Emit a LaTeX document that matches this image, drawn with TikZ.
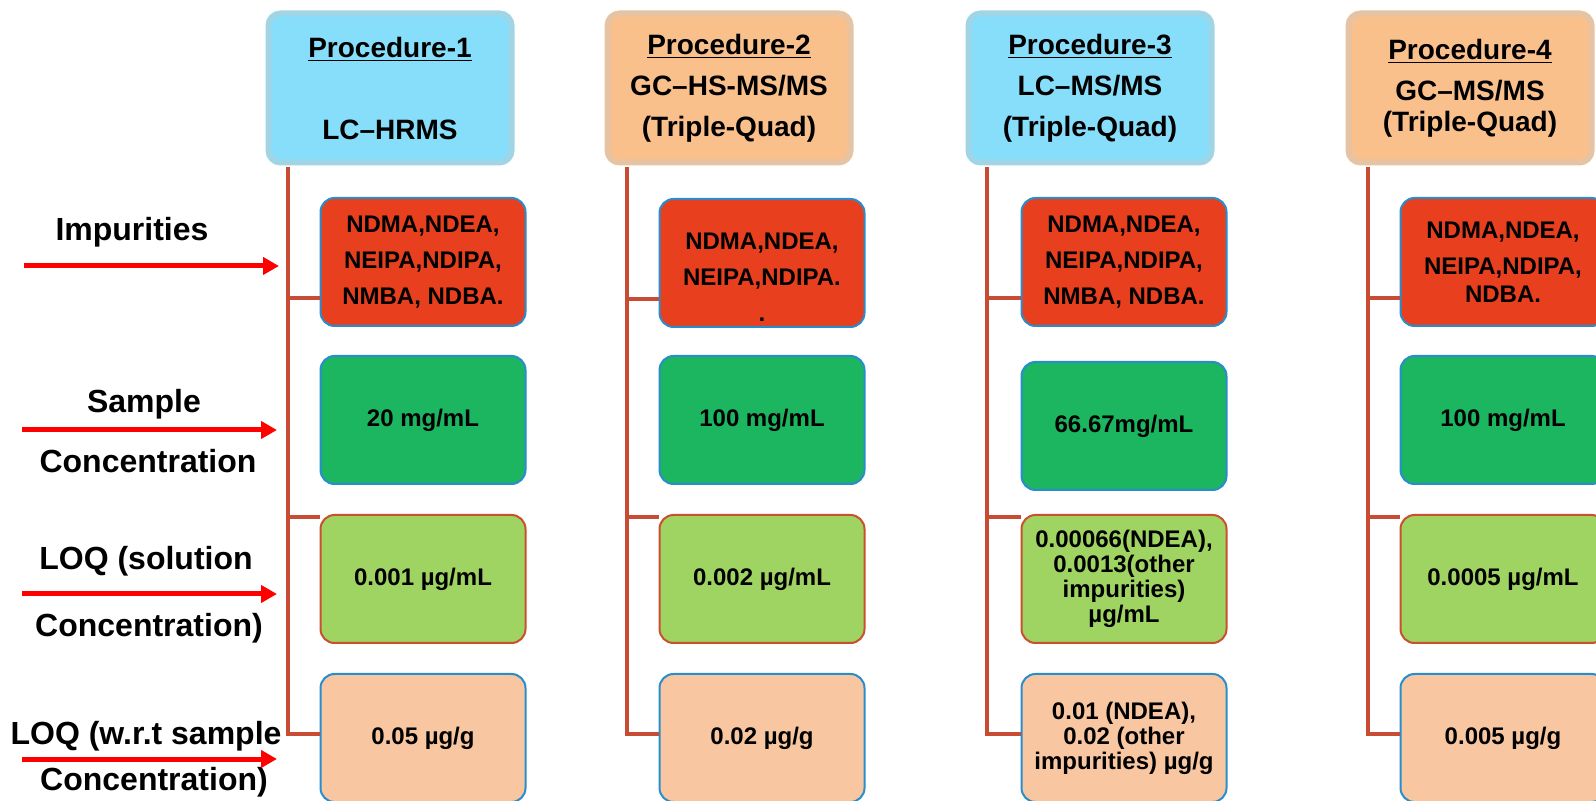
\documentclass[tikz,border=0pt]{standalone}
\usepackage{fontspec}
\setmainfont{Liberation Sans}
\usetikzlibrary{arrows.meta}
\definecolor{hdrblue}{RGB}{135,222,250}
\definecolor{hdrorange}{RGB}{250,192,140}
\definecolor{impred}{RGB}{232,64,30}
\definecolor{concgreen}{RGB}{28,182,96}
\definecolor{loqgreen}{RGB}{160,212,98}
\definecolor{loqpeach}{RGB}{248,198,160}
\definecolor{cellblue}{RGB}{40,140,205}
\definecolor{loqedge}{RGB}{200,80,46}
\definecolor{trunkred}{RGB}{200,76,52}
\tikzset{
  hdr/.style={rounded corners=6pt,minimum width=121.5pt,minimum height=74.5pt,
    line width=3pt,inner sep=2pt,align=center,
    font=\fontsize{14}{20.5}\selectfont\bfseries},
  hdrb/.style={hdr,fill=hdrblue,draw=hdrblue!88!black!70},
  hdro/.style={hdr,fill=hdrorange,draw=hdrorange!88!black!70},
  cell/.style={draw=cellblue,line width=1pt,rounded corners=7pt,minimum width=102.5pt,
    minimum height=64pt,inner sep=2pt,align=center,
    font=\fontsize{12}{12.5}\selectfont\bfseries},
  imp/.style={cell,fill=impred,font=\fontsize{12}{18}\selectfont\bfseries},
  conc/.style={cell,fill=concgreen},
  loqs/.style={cell,fill=loqgreen,draw=loqedge},
  loqw/.style={cell,fill=loqpeach},
  trunk/.style={draw=trunkred,line width=2pt},
  side/.style={-{Triangle[length=8pt,width=8.5pt]},red,line width=2.5pt},
  rowlbl/.style={font=\fontsize{16}{19}\selectfont\bfseries},
}

\begin{document}
\begin{tikzpicture}[x=0.5pt,y=-0.5pt]
  \useasboundingbox (0,0) rectangle (1596,801);
  \clip (0,0) rectangle (1596,801);

  % row labels on the left
  \node[rowlbl] (limp) at (132,232) {Impurities};
  \node[rowlbl] (lsam) at (144,404) {Sample};
  \node[rowlbl] (lcon) at (148,461) {Concentration};
  \node[rowlbl] (lsol) at (146,561) {LOQ (solution};
  \node[rowlbl] (lsolc) at (149,628) {Concentration)};
  \node[rowlbl] (lwrt) at (146,736) {LOQ (w.r.t sample};
  \node[rowlbl] (lwrtc) at (154,782) {Concentration)};
  \coordinate (a1) at (24,266);  \coordinate (b1) at (279,266);
  \coordinate (a2) at (22,430);  \coordinate (b2) at (277,430);
  \coordinate (a3) at (22,594);  \coordinate (b3) at (277,594);
  \coordinate (a4) at (22,759);  \coordinate (b4) at (277,759);
  \draw[side] (a1) -- (b1);
  \draw[side] (a2) -- (b2);
  \draw[side] (a3) -- (b3);
  \draw[side] (a4) -- (b4);

  % procedure 1
  \node[hdrb] (h1) at (390,88) {\underline{Procedure-1}\\[20.5pt]LC–HRMS};
  \coordinate (t1) at (288,167);
  \node[imp] (imp1) at (423,262) {NDMA,NDEA,\\NEIPA,NDIPA,\\NMBA, NDBA.};
  \node[conc] (conc1) at (423,420) {20 mg/mL};
  \node[loqs] (sol1) at (423,579) {0.001 µg/mL};
  \node[loqw] (wrt1) at (423,738) {0.05 µg/g};
  \draw[trunk] (t1) -- (t1 |- wrt1.178) -- (wrt1.178);
  \draw[trunk] (t1 |- imp1.199) -- (imp1.199);
  \draw[trunk] (t1 |- sol1.149) -- (sol1.149);

  % procedure 2
  \node[hdro] (h2) at (729,88) {\underline{Procedure-2}\\GC–HS-MS/MS\\(Triple-Quad)};
  \coordinate (t2) at (627,167);
  \node[imp] (imp2) at (762,263) {\rule{0pt}{23pt}NDMA,NDEA,\\NEIPA,NDIPA.\\.};
  \node[conc] (conc2) at (762,420) {100 mg/mL};
  \node[loqs] (sol2) at (762,579) {0.002 µg/mL};
  \node[loqw] (wrt2) at (762,738) {0.02 µg/g};
  \draw[trunk] (t2) -- (t2 |- wrt2.178) -- (wrt2.178);
  \draw[trunk] (t2 |- imp2.199) -- (imp2.199);
  \draw[trunk] (t2 |- sol2.149) -- (sol2.149);

  % procedure 3
  \node[hdrb] (h3) at (1090,88) {\underline{Procedure-3}\\LC–MS/MS\\(Triple-Quad)};
  \coordinate (t3) at (987,167);
  \node[imp] (imp3) at (1124,262) {NDMA,NDEA,\\NEIPA,NDIPA,\\NMBA, NDBA.};
  \node[conc] (conc3) at (1124,426) {66.67mg/mL};
  \node[loqs] (sol3) at (1124,579) {0.00066(NDEA),\\0.0013(other\\impurities)\\µg/mL};
  \node[loqw] (wrt3) at (1124,738) {0.01 (NDEA),\\0.02 (other\\impurities) µg/g};
  \draw[trunk] (t3) -- (t3 |- wrt3.178) -- (wrt3.178);
  \draw[trunk] (t3 |- imp3.199) -- (imp3.199);
  \draw[trunk] (t3 |- sol3.149) -- (sol3.149);

  % procedure 4
  \node[hdro] (h4) at (1470,88) {\underline{Procedure-4}\\GC–MS/MS\\[-5pt](Triple-Quad)};
  \coordinate (t4) at (1368,167);
  \node[imp] (imp4) at (1503,262) {NDMA,NDEA,\\NEIPA,NDIPA,\\[-4pt]NDBA.};
  \node[conc] (conc4) at (1503,420) {100 mg/mL};
  \node[loqs] (sol4) at (1503,579) {0.0005 µg/mL};
  \node[loqw] (wrt4) at (1503,738) {0.005 µg/g};
  \draw[trunk] (t4) -- (t4 |- wrt4.178) -- (wrt4.178);
  \draw[trunk] (t4 |- imp4.199) -- (imp4.199);
  \draw[trunk] (t4 |- sol4.149) -- (sol4.149);
\end{tikzpicture}
\end{document}
